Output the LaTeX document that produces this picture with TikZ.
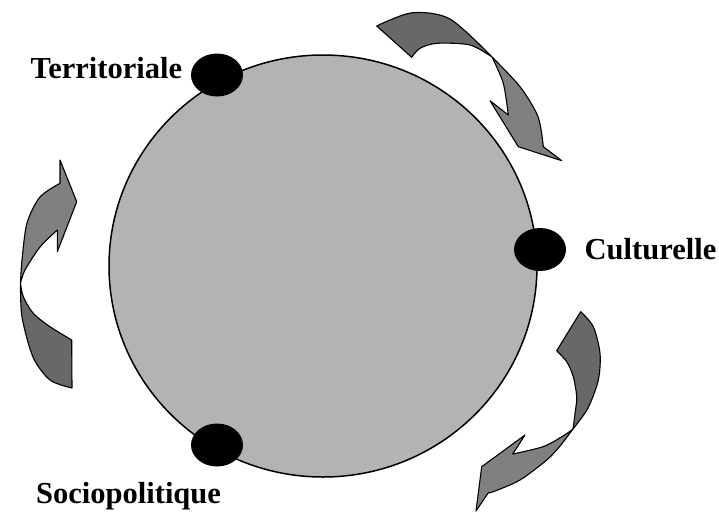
\documentclass[tikz,border=0pt]{standalone}
\usepackage{fontspec}
\setmainfont{Liberation Serif}
\usetikzlibrary{shapes.geometric}
\definecolor{DiscGray}{RGB}{179, 179, 179}
\definecolor{BackGray}{RGB}{104, 104, 104}
\definecolor{FrontGray}{RGB}{128, 128, 128}

\begin{document}
\begin{tikzpicture}[
        x=1pt, y=-1pt,
        disc/.style={ellipse, draw=black, line width=1.5pt, fill=DiscGray,
                     minimum width=428pt, minimum height=422pt, inner sep=0pt},
        dot/.style={ellipse, fill=black, minimum width=52pt, minimum height=43pt,
                    inner sep=0pt},
        lbl/.style={anchor=base west, inner sep=0pt,
                    font=\fontsize{30.5}{34}\selectfont\bfseries},
        backpart/.style={draw=black, line width=1.1pt, line join=round, fill=BackGray},
        frontpart/.style={draw=black, line width=1.1pt, line join=round, fill=FrontGray}
    ]
        \useasboundingbox (0,0) rectangle (719,512);

        \node[disc] (ring) at (323,266) {};

        % arrow top right
        \path[backpart] (376.7,26) -- plot[smooth] coordinates {(376.7,26) (412,12.8) (450,19) (492,57)}
            -- plot[smooth] coordinates {(492,57) (470,45) (437,43.3) (420,48.3) (411.7,57.3)} -- cycle;
        \path[frontpart] (492,57) -- plot[smooth] coordinates {(492,57) (520,86.7) (538,116.7) (543.3,146.7)}
            -- (561.7,160.7) -- (518.3,146.7) -- (490,100.7) -- (508.3,115)
            -- plot[smooth] coordinates {(508.3,115) (503.3,83.3) (492,57)} -- cycle;

        % arrow left
        \path[backpart] (72,388) -- plot[smooth] coordinates {(72,388) (50,380) (33,357) (22,317) (20.5,283)}
            -- plot[smooth] coordinates {(20.5,283) (23.3,296.7) (33.3,313.3) (50,326.7) (71.7,340)} -- cycle;
        \path[frontpart] (20.5,283) -- plot[smooth] coordinates {(20.5,283) (22,260) (27,223) (40,197) (60,183.3)}
            -- (60,160) -- (76.7,201.7) -- (57.3,251.7) -- (57.3,230)
            -- plot[smooth] coordinates {(57.3,230) (40,247) (25,270) (20.5,283)} -- cycle;

        % arrow bottom right
        \path[backpart] (556.7,350.7) -- (580.7,311.7)
            -- plot[smooth] coordinates {(580.7,311.7) (593.3,326.7) (600,353.3) (598.3,380) (588,408) (573,429)}
            -- plot[smooth] coordinates {(573,429) (575.5,410) (576.7,396.7) (573.3,376.7) (566.7,361.7) (556.7,350.7)} -- cycle;
        \path[frontpart] (573,429) -- plot[smooth] coordinates {(573,429) (560,446) (546.7,460) (520,480) (493.3,491.7) (488.3,492.7)}
            -- (476,511) -- (481.7,466.7) -- (525,435) -- (512.7,454)
            -- plot[smooth] coordinates {(512.7,454) (543,446.7) (563,436) (573,429)} -- cycle;

        \node[dot] (terr) at (217,75) {};
        \node[dot] (cult) at (540,249.5) {};
        \node[dot] (socio) at (217,445) {};

        \node[lbl] (terrlbl) at (30.5,78.3) {Territoriale};
        \node[lbl] (cultlbl) at (584.5,259.3) {Culturelle};
        \node[lbl] (sociolbl) at (36,503.3) {Sociopolitique};
    \end{tikzpicture}
\end{document}
